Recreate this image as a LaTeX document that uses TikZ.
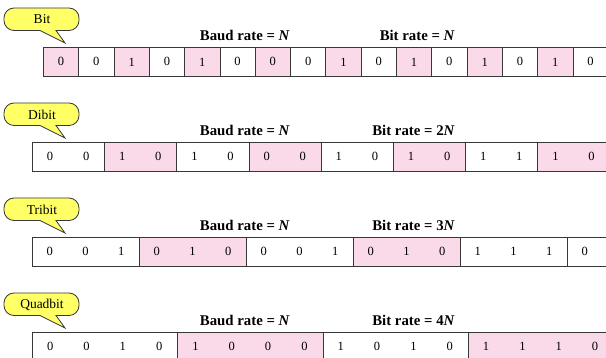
\documentclass[tikz,border=0pt]{standalone}
\usepackage{fontspec}
\setmainfont{Liberation Serif}
\definecolor{cellpink}{RGB}{250,218,232}
\definecolor{callyellow}{RGB}{255,255,102}
\definecolor{linec}{RGB}{55,55,55}
\newcommand\bitrow[6]{%
  \foreach \c [count=\i from 0] in {#5} {
    \node[cell, fill=\c, minimum width=#3pt] (#1g\i) at ({32+#3*\i},#2) {};
  }
  \foreach \b [count=\k from 0] in {#6} {
    \pgfmathtruncatemacro\gi{int(\k/#4)}
    \pgfmathtruncatemacro\ji{\k-\gi*#4}
    \node[bit] (#1b\k) at ({32+#3*\gi+(\ji+0.5)*#3/#4}, #2-14.5) {\b};
  }
}
\newcommand\mycallout[3]{%
  \draw[callout] (65,{-(#2+35)}) -- (40,{-(#2+22.5)}) -- (14,{-(#2+22.5)})
    arc[start angle=270, end angle=180, radius=10] -- (4,{-(#2+10)})
    arc[start angle=180, end angle=90, radius=10] -- (69,{-#2})
    arc[start angle=90, end angle=0, radius=10] -- (79,{-(#2+12.5)})
    arc[start angle=0, end angle=-90, radius=10] -- (56,{-(#2+22.5)}) -- cycle;
  \node[calltext] (#1) at (42,{-(#2+11.5)}) {#3};
}
\newcommand\rates[4]{%
  \node[rate] (#1baud) at (290,{#2+6.5}) {Baud rate = \textit{N}};
  \node[rate] (#1bitr) at (455,{#2+6.5}) {Bit rate = #3\textit{N}};
}
\begin{document}
\begin{tikzpicture}[x=1pt,y=1pt,
  cell/.style={draw=linec, line width=0.8pt, minimum height=29pt, inner sep=0pt, anchor=north west},
  bit/.style={font=\fontsize{12.5}{14}\selectfont, inner sep=0pt},
  rate/.style={font=\fontsize{14.8}{17}\selectfont\bfseries, anchor=base east, inner sep=0pt},
  callout/.style={draw=linec, fill=callyellow, line width=0.8pt},
  calltext/.style={font=\fontsize{13.5}{15}\selectfont, inner sep=0pt}]
\useasboundingbox (0,0) rectangle (606,-358);
% Row 1: Bit
\foreach \b [count=\i from 0] in {0,0,1,0,1,0,0,0,1,0,1,0,1,0,1,0} {
  \pgfmathtruncatemacro\m{mod(\i,2)}
  \ifnum\m=0 \def\fc{cellpink}\else\def\fc{white}\fi
  \node[cell, fill=\fc, minimum width=35.3pt] (ra\i) at ({43+35.3*\i},-47) {};
  \node[bit] (ta\i) at (ra\i.center) {\b};
}
\mycallout{cbit}{8}{Bit}
\rates{r1}{-47}{}{}
% Row 2: Dibit
\bitrow{rb}{-142}{72.2}{2}{white,cellpink,white,cellpink,white,cellpink,white,cellpink}{0,0,1,0,1,0,0,0,1,0,1,0,1,1,1,0}
\mycallout{cdibit}{103}{Dibit}
\rates{r2}{-142}{2}{}
% Row 3: Tribit
\bitrow{rc}{-237}{107}{3}{white,cellpink,white,cellpink,white,white}{0,0,1,0,1,0,0,0,1,0,1,0,1,1,1,0}
\mycallout{ctribit}{198}{Tribit}
\rates{r3}{-237}{3}{}
% Row 4: Quadbit
\bitrow{rd}{-332}{145.3}{4}{white,cellpink,white,cellpink}{0,0,1,0,1,0,0,0,1,0,1,0,1,1,1,0}
\mycallout{cquad}{293}{Quadbit}
\rates{r4}{-332}{4}{}
\end{tikzpicture}
\end{document}
